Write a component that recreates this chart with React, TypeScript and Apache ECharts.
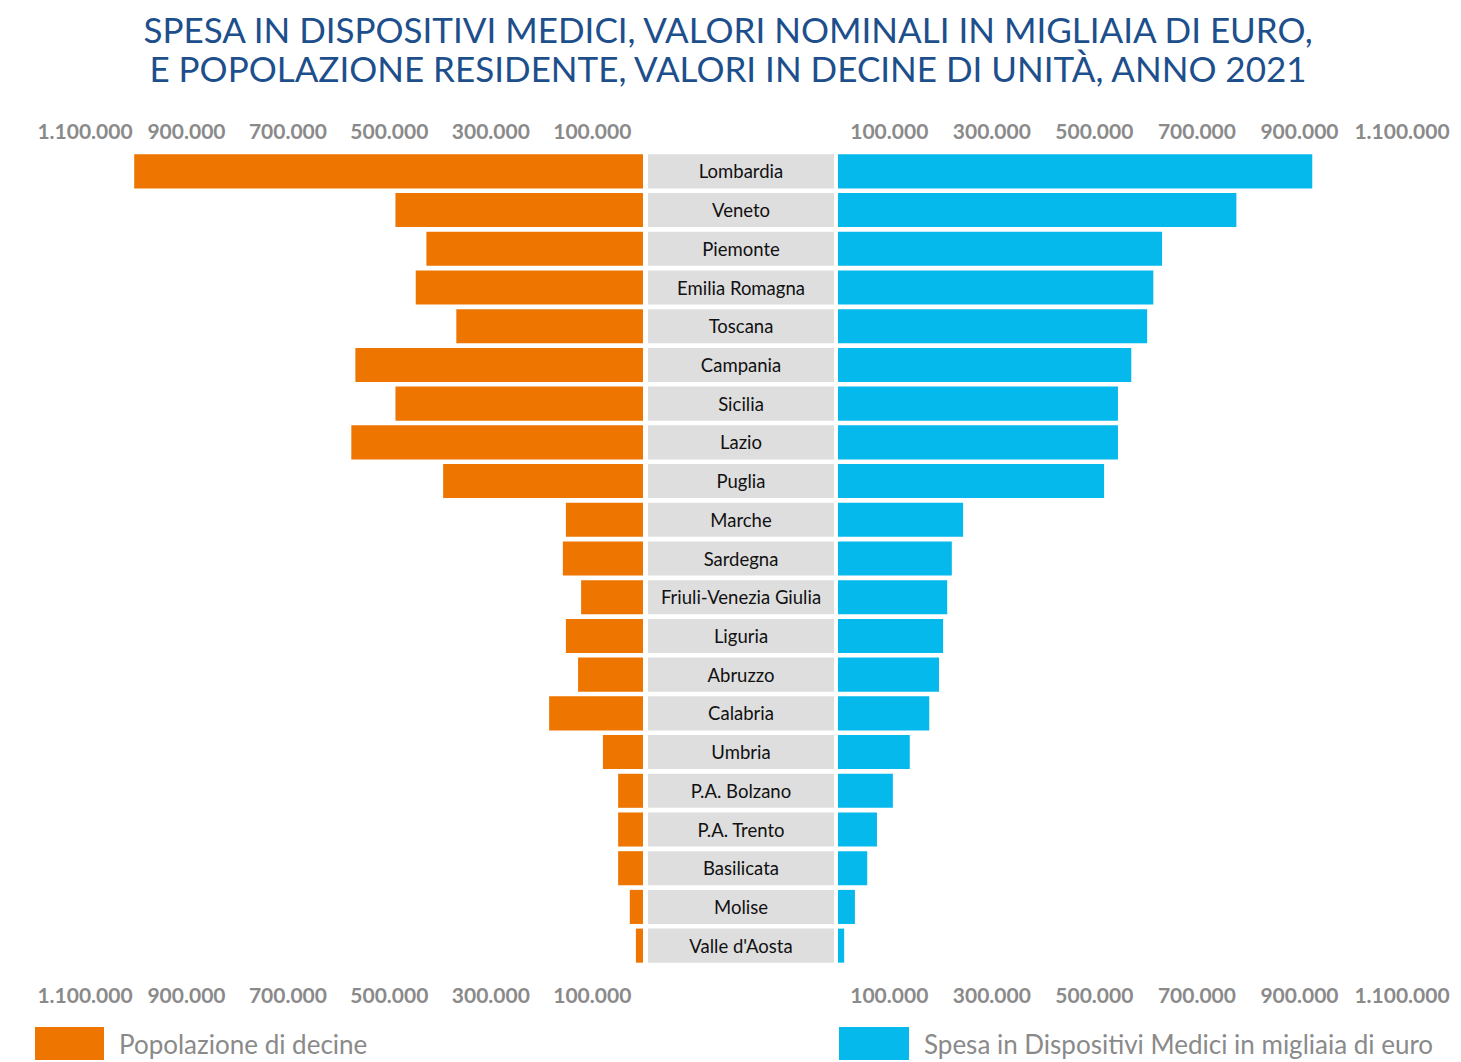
import React, { useEffect, useRef } from "react";
import * as echarts from "echarts";

const regions = [
  "Lombardia", "Veneto", "Piemonte", "Emilia Romagna", "Toscana", "Campania", "Sicilia", "Lazio",
  "Puglia", "Marche", "Sardegna", "Friuli-Venezia Giulia", "Liguria", "Abruzzo", "Calabria", "Umbria",
  "P.A. Bolzano", "P.A. Trento", "Basilicata", "Molise", "Valle d'Aosta",
];
const popolazione = [
  1003000, 488000, 427000, 448000, 368000, 567000, 488000, 575000, 394000, 152000, 158000,
  122000, 152000, 128000, 185000, 79000, 49000, 49000, 49000, 26000, 14000,
];
const spesa = [
  925000, 777000, 632000, 615000, 603000, 572000, 546000, 546000, 519000, 244000, 222000,
  213000, 205000, 197000, 178000, 140000, 107000, 76000, 57000, 33000, 12000,
];
const tickValues = [100000, 300000, 500000, 700000, 900000, 1100000];
const labelBoxValues = regions.map(() => 1);

const fmt = (v: number) => String(Math.round(v)).replace(/\B(?=(\d{3})+(?!\d))/g, ".");

export default function App() {
  const ref = useRef<HTMLDivElement>(null);
  useEffect(() => {
    document.body.style.margin = "0";
    const chart = echarts.init(ref.current!, null, { renderer: "svg" });
    const font = "Lato";
    const tickLabel = (margin: number) => ({
      show: true,
      customValues: tickValues,
      formatter: (v: number) => fmt(v),
      color: "#8a8a8a",
      fontSize: 21,
      fontWeight: "bold" as const,
      fontFamily: font,
      margin,
    });
    const valueAxis = (grid: number, pos: "top" | "bottom", inverse: boolean) => ({
      type: "value" as const,
      gridIndex: grid,
      position: pos,
      min: 0,
      max: 1100000,
      inverse,
      axisLine: { show: false },
      axisTick: { show: false },
      splitLine: { show: false },
      axisLabel: tickLabel(pos === "top" ? 11 : 19),
    });
    const catAxis = (grid: number) => ({
      type: "category" as const,
      gridIndex: grid,
      data: regions,
      inverse: true,
      show: false,
    });
    const legendText = { color: "#8a8a8a", fontSize: 26, fontFamily: font, padding: [2, 0, 0, 10] };
    const option: any = {
      animation: false,
      backgroundColor: "#ffffff",
      title: {
        text: "SPESA IN DISPOSITIVI MEDICI, VALORI NOMINALI IN MIGLIAIA DI EURO,\nE POPOLAZIONE RESIDENTE, VALORI IN DECINE DI UNITÀ, ANNO 2021",
        left: 723,
        textAlign: "center",
        top: 4,
        textStyle: {
          color: "#1d4f8c",
          fontSize: 35,
          fontWeight: "normal",
          fontFamily: font,
          lineHeight: 39,
        },
      },
      legend: [
        {
          data: ["Popolazione di decine"],
          left: 35,
          top: 1027,
          padding: 0,
          itemWidth: 69,
          itemHeight: 33,
          icon: "rect",
          textStyle: legendText,
        },
        {
          data: ["Spesa in Dispositivi Medici in migliaia di euro"],
          left: 839,
          top: 1027,
          padding: 0,
          itemWidth: 70,
          itemHeight: 33,
          icon: "rect",
          textStyle: legendText,
        },
      ],
      grid: [
        { left: 85, right: 818, top: 152, bottom: 97 },
        { left: 648, right: 627, top: 152, bottom: 97 },
        { left: 838, right: 59, top: 152, bottom: 97 },
      ],
      xAxis: [
        valueAxis(0, "top", true),
        valueAxis(0, "bottom", true),
        { type: "value", gridIndex: 1, min: 0, max: 1, show: false },
        valueAxis(2, "top", false),
        valueAxis(2, "bottom", false),
      ],
      yAxis: [catAxis(0), catAxis(1), catAxis(2)],
      series: [
        {
          name: "Popolazione di decine",
          type: "bar",
          xAxisIndex: 0,
          yAxisIndex: 0,
          data: popolazione,
          barCategoryGap: "12%",
          itemStyle: { color: "#ED7500" },
        },
        {
          name: "labels",
          type: "bar",
          xAxisIndex: 2,
          yAxisIndex: 1,
          data: labelBoxValues,
          barCategoryGap: "12%",
          itemStyle: { color: "#dedede" },
          silent: true,
          label: {
            show: true,
            position: "inside",
            formatter: "{b}",
            color: "#111111",
            fontSize: 18.5,
            fontFamily: font,
          },
        },
        {
          name: "Spesa in Dispositivi Medici in migliaia di euro",
          type: "bar",
          xAxisIndex: 3,
          yAxisIndex: 2,
          data: spesa,
          barCategoryGap: "12%",
          itemStyle: { color: "#06B9EC" },
        },
      ],
    };
    chart.setOption(option);
    return () => chart.dispose();
  }, []);
  return <div ref={ref} style={{ width: 1461, height: 1062 }} />;
}
